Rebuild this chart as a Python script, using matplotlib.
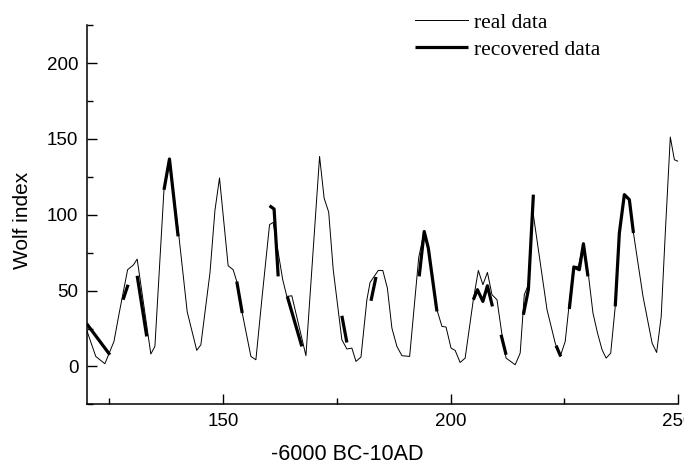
import numpy as np
import matplotlib.pyplot as plt
from matplotlib.transforms import Bbox, TransformedBbox

# real data (vertices)
real_x = [120.0, 122.0, 124.0, 126.0, 127.2, 129.0, 130.3, 131.1, 134.1, 135.0,
          137.0, 138.2, 140.2, 142.1, 144.2, 145.1, 147.1, 148.2, 149.2, 151.1,
          152.2, 153.0, 154.2, 156.1, 157.2, 158.5, 160.2, 161.0, 163.1, 164.0,
          165.1, 168.2, 171.2, 172.2, 173.2, 174.2, 176.1, 177.2, 178.3, 179.2,
          180.3, 181.6, 182.3, 184.1, 185.1, 186.1, 187.1, 188.2, 189.3, 191.0,
          193.0, 194.2, 195.1, 197.0, 198.1, 199.0, 200.1, 201.0, 202.1, 203.2,
          205.0, 206.1, 207.1, 208.1, 209.1, 210.2, 211.3, 212.2, 214.2, 215.3,
          216.2, 217.1, 218.1, 221.2, 223.0, 224.1, 225.2, 226.1, 227.0, 228.1,
          229.2, 230.3, 231.3, 232.3, 233.3, 234.2, 235.2, 236.2, 237.1, 238.2,
          239.3, 240.2, 242.3, 243.3, 244.3, 245.3, 246.3, 247.2, 248.3, 249.2,
          250.1]
real_y = [24.0, 6.6, 1.8, 16.5, 36.0, 63.8, 67.0, 70.8, 8.2, 13.2,
          117.0, 137.0, 88.0, 36.0, 10.6, 14.3, 61.6, 103.0, 124.3, 66.4,
          63.8, 56.0, 35.2, 6.6, 4.4, 44.0, 93.5, 95.0, 57.2, 46.2,
          46.6, 7.1, 138.5, 111.0, 101.8, 63.8, 17.6, 11.5, 12.1, 3.3,
          6.2, 44.0, 55.4, 63.3, 63.3, 51.7, 25.3, 13.2, 7.1, 6.6,
          72.0, 89.0, 79.0, 37.4, 26.4, 26.0, 12.1, 10.6, 2.6, 5.5,
          44.0, 63.3, 53.9, 62.0, 47.3, 44.0, 20.9, 5.5, 1.1, 8.8,
          47.3, 53.9, 102.0, 37.4, 15.4, 6.6, 16.5, 41.8, 66.0, 66.0,
          81.4, 60.5, 35.2, 22.0, 11.0, 5.5, 8.8, 39.6, 88.0, 113.3,
          110.0, 88.0, 46.2, 30.8, 15.4, 9.2, 33.0, 88.0, 151.3, 136.3,
          135.2]

# recovered data, one list per piece
rec_x = [[120.0, 125.1], [128.0, 129.1], [131.1, 133.2], [137.0, 138.2, 140.1],
         [153.0, 154.2], [160.2, 161.2, 162.1], [164.1, 167.3], [176.1, 177.2],
         [182.5, 183.6], [193.1, 194.2, 195.1, 197.0],
         [205.0, 205.9, 207.1, 208.1, 209.2], [211.1, 212.2],
         [216.0, 217.1, 218.2], [223.2, 224.2],
         [226.1, 227.1, 228.3, 229.2, 230.2],
         [236.2, 237.1, 238.2, 239.3, 240.2]]
rec_y = [[28.2, 7.7], [44.0, 53.9], [59.8, 19.8], [116.5, 136.8, 85.8],
         [56.0, 35.2], [106.0, 103.8, 59.4], [46.2, 13.2], [33.4, 15.8],
         [43.3, 59.0], [59.4, 89.0, 78.1, 36.3],
         [44.0, 50.6, 42.9, 53.2, 39.6], [20.9, 7.7],
         [34.1, 50.6, 113.3], [13.7, 6.6],
         [37.9, 65.6, 63.8, 80.9, 59.4],
         [39.6, 88.0, 113.3, 110.0, 88.0]]

plt.rcParams['font.family'] = ['Liberation Sans', 'DejaVu Sans']

fig = plt.figure(figsize=(6.99, 4.68), dpi=100)
ax = fig.add_axes([0.124, 0.136, 0.846, 0.81])

ax.plot(real_x, real_y, color='black', lw=0.7, label='real data')
for i, (xs, ys) in enumerate(zip(rec_x, rec_y)):
    ax.plot(xs, ys, color='black', lw=2.3, solid_capstyle='butt',
            label='recovered data' if i == 0 else None)

ax.set_xlim(120, 250)
ax.set_ylim(-25, 225)
ax.set_xticks([150, 200, 250])
ax.set_xticklabels(['150', '200', '250'])
ax.set_xticks([125, 175, 225], minor=True)
ax.set_yticks([0, 50, 100, 150, 200])
ax.set_yticks([-25, 25, 75, 125, 175, 225], minor=True)
ax.tick_params(which='both', direction='in', labelsize=13.5, width=1, color='black')
ax.tick_params(which='major', length=7.5, pad=6)
ax.tick_params(which='minor', length=4)
for s in ['top', 'right']:
    ax.spines[s].set_visible(False)
for s in ['left', 'bottom']:
    ax.spines[s].set_linewidth(1.1)

# last x tick label is cut by the picture edge
lab = ax.get_xticklabels()[-1]
lab.set_clip_box(TransformedBbox(Bbox.from_extents(0, 0, 684 / 699, 1), fig.transFigure))
lab.set_clip_on(True)

ax.set_xlabel('-6000 BC-10AD', fontsize=15.5)
ax.set_ylabel('Wolf index', fontsize=15)
ax.xaxis.set_label_coords(0.44, -0.105)
ax.yaxis.set_label_coords(-0.0925, 0.486)

ax.legend(frameon=False, loc='upper left', bbox_to_anchor=(0.594, 0.973),
          bbox_transform=fig.transFigure, borderpad=0, borderaxespad=0,
          handlelength=2.46, handletextpad=0.28, labelspacing=0.32,
          prop={'family': 'Liberation Serif', 'size': 15.5})

fig.savefig('out.png', dpi=100)
